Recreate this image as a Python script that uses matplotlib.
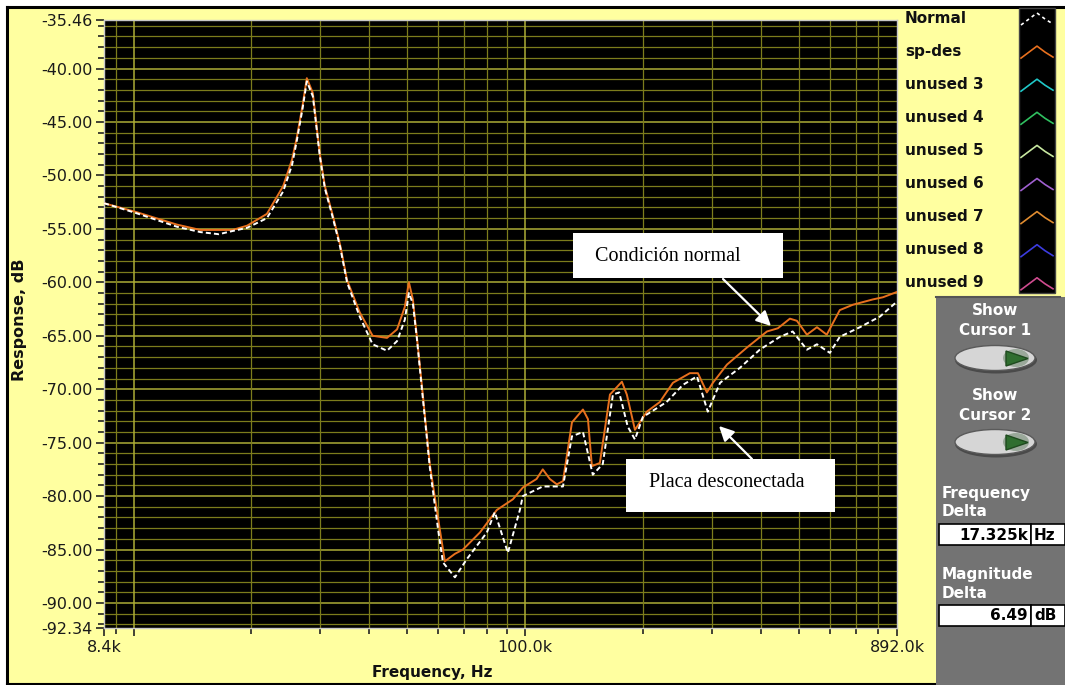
import matplotlib
matplotlib.use("Agg")
import matplotlib.pyplot as plt
from matplotlib.patches import Rectangle, Ellipse, Polygon
from matplotlib.ticker import NullFormatter
import numpy as np

# ---- measured responses -------------------------------------------------
# "sp-des" trace (solid orange), frequency in kHz, response in dB
spdes_khz = [8.4, 10.1, 12.9, 14.8, 17.9, 19.5, 21.9, 24.1, 25.4, 26.1, 27.0,
             27.7, 28.7, 29.9, 30.8, 32.3, 33.7, 35.1, 37.8, 40.8, 44.4, 47.1,
             49.3, 50.5, 51.7, 52.9, 54.8, 57.1, 59.9, 62.4, 66.2, 69.4, 76.7,
             84.7, 93.1, 98.7, 107.0, 111.0, 115.7, 120.6, 125.0, 131.8, 140.6,
             144.8, 148.2, 155.3, 164.8, 176.8, 182.0, 190.9, 204.8, 221.0,
             238.7, 263.7, 276.5, 291.5, 302.0, 328.0, 369.0, 415.0, 442.6,
             475.0, 495.0, 525.0, 557.0, 590.0, 637.0, 688.0, 774.0, 821.0,
             892.0]
spdes_db = [-52.6, -53.4, -54.6, -55.1, -55.1, -54.7, -53.6, -51.0, -48.5,
            -46.5, -43.5, -40.9, -42.3, -48.0, -51.0, -53.8, -56.5, -59.8,
            -62.8, -65.0, -65.2, -64.4, -62.3, -60.0, -61.6, -65.0, -70.5,
            -77.0, -82.0, -86.1, -85.4, -85.0, -83.4, -81.3, -80.3, -79.2,
            -78.4, -77.5, -78.4, -78.9, -78.6, -73.1, -71.9, -72.8, -77.2,
            -76.9, -70.5, -69.3, -70.5, -73.8, -72.1, -71.2, -69.4, -68.5,
            -68.5, -70.3, -69.4, -67.7, -66.1, -64.6, -64.3, -63.4, -63.6,
            -64.9, -64.2, -64.9, -62.6, -62.1, -61.6, -61.4, -60.9]

# "Normal" trace (white dashed)
normal_khz = [8.4, 10.1, 12.9, 14.8, 16.5, 17.9, 19.5, 21.9, 24.1, 25.4, 26.1,
              27.0, 27.7, 28.7, 29.9, 30.8, 32.3, 33.7, 35.1, 37.8, 40.8, 44.4,
              47.1, 49.3, 50.5, 51.7, 52.9, 54.8, 57.1, 59.9, 61.7, 66.2, 71.0,
              79.9, 83.7, 90.4, 97.0, 98.7, 111.0, 125.0, 131.8, 140.6, 149.0,
              158.0, 167.7, 174.0, 183.0, 190.9, 200.0, 230.0, 253.0, 275.0,
              293.0, 315.0, 354.0, 398.0, 448.0, 483.0, 525.0, 557.0, 601.0,
              637.0, 717.0, 807.0, 892.0]
normal_db = [-52.6, -53.5, -54.8, -55.3, -55.5, -55.2, -54.9, -54.0, -51.5,
             -49.0, -46.8, -43.8, -41.2, -42.6, -48.2, -51.2, -54.0, -56.7,
             -60.0, -63.2, -65.8, -66.4, -65.5, -63.5, -61.0, -62.0, -65.2,
             -70.8, -77.3, -83.0, -86.2, -87.6, -85.9, -83.4, -81.5, -85.3,
             -81.3, -80.0, -79.1, -79.1, -74.4, -74.0, -78.0, -77.0, -70.5,
             -70.3, -73.5, -74.7, -72.6, -71.2, -69.6, -68.8, -72.1, -69.4,
             -68.0, -66.3, -65.1, -64.6, -66.3, -65.8, -66.6, -65.1, -64.2,
             -63.2, -61.8]

legend_names = ["Normal", "sp-des", "unused 3", "unused 4", "unused 5",
                "unused 6", "unused 7", "unused 8", "unused 9"]
legend_colors = ["white", "#E8701E", "#20C8C8", "#30C060", "#C8E8A0",
                 "#A060D0", "#E08C30", "#3C3CE0", "#D04C90"]

y_major = [-35.46, -40.0, -45.0, -50.0, -55.0, -60.0, -65.0, -70.0, -75.0,
           -80.0, -85.0, -90.0, -92.34]
y_labels = ["-35.46", "-40.00", "-45.00", "-50.00", "-55.00", "-60.00",
            "-65.00", "-70.00", "-75.00", "-80.00", "-85.00", "-90.00", "-92.34"]
x_major_khz = [8.4, 10.0, 100.0, 892.0]
x_labels = ["8.4k", "", "100.0k", "892.0k"]
x_minor_khz = [9, 20, 30, 40, 50, 60, 70, 80, 90,
               200, 300, 400, 500, 600, 700, 800]

YELLOW = "#FFFFA0"
GRID_MINOR = "#7C7C1C"
GRID_MAJOR = "#ACAC36"
PANEL = "#737373"

W, H = 1065, 685
fig = plt.figure(figsize=(W / 100, H / 100), dpi=100)
fig.patch.set_facecolor("white")

# ---- background panels (pixel coordinates) -------------------------------
bg = fig.add_axes([0, 0, 1, 1], zorder=0)
bg.set_xlim(0, W)
bg.set_ylim(H, 0)
bg.axis("off")
bg.add_patch(Rectangle((7, 7), W - 7, H - 7, facecolor=YELLOW, edgecolor="none"))
bg.plot([7, 7], [7, H], color="black", lw=2.2)
bg.plot([7, W], [7, 7], color="black", lw=2.2)
bg.plot([7, W], [H - 1.5, H - 1.5], color="black", lw=1.5)

# ---- main graph -----------------------------------------------------------
ax = fig.add_axes([104 / W, 1 - 628 / H, 793 / W, 608 / H], zorder=2)
ax.set_facecolor("black")
ax.set_xscale("log")
ax.set_xlim(8400, 892000)
ax.set_ylim(-92.34, -35.46)

for v in range(-92, -35):
    major = (v % 5 == 0)
    ax.axhline(v, color=GRID_MAJOR if major else GRID_MINOR,
               lw=1.1 if major else 0.9, zorder=1)
for k in x_minor_khz:
    ax.axvline(k * 1000, color=GRID_MINOR, lw=0.9, zorder=1)
for k in (10, 100):
    ax.axvline(k * 1000, color=GRID_MAJOR, lw=1.1, zorder=1)

ax.plot(np.array(spdes_khz) * 1000, spdes_db, color="#E8701E", lw=1.4, zorder=3)
ax.plot(np.array(normal_khz) * 1000, normal_db, color="white", lw=1.4,
        dashes=(2.6, 1.6), zorder=4)

ax.set_xticks(np.array(x_major_khz) * 1000, labels=x_labels)
ax.set_xticks(np.array(x_minor_khz) * 1000, minor=True)
ax.xaxis.set_minor_formatter(NullFormatter())
ax.set_yticks(y_major, labels=y_labels)
ax.set_yticks([v for v in range(-92, -35) if v % 5 != 0], minor=True)

for lab in ax.get_xticklabels() + ax.get_yticklabels():
    lab.set_fontfamily("DejaVu Sans")
    lab.set_fontsize(11.5)
    lab.set_color("#1a1a1a")
ax.tick_params(axis="both", which="major", length=6, width=1.2, color="#222222",
               direction="out")
ax.tick_params(axis="both", which="minor", length=4, width=1.2, color="#222222",
               direction="out")
ax.tick_params(axis="y", which="major", pad=2)
ax.tick_params(axis="x", which="major", pad=3)
for s in ax.spines.values():
    s.set_color("#c8c8c8")
    s.set_linewidth(1.0)

# ---- overlay: labels, legend, controls, callouts ---------------------------
ov = fig.add_axes([0, 0, 1, 1], zorder=5)
ov.set_xlim(0, W)
ov.set_ylim(H, 0)
ov.axis("off")
ov.patch.set_alpha(0)

ov.text(20, 320, "Response, dB", rotation=90, ha="center", va="center",
        fontsize=11.5, fontweight="bold", family="DejaVu Sans", color="#111111")
ov.text(432, 673, "Frequency, Hz", ha="center", va="center",
        fontsize=11, fontweight="bold", family="DejaVu Sans", color="#111111")

# plot legend
ov.add_patch(Rectangle((1019, 8), 36, 285, facecolor="black", edgecolor="#444444", lw=1))
for i, (name, col) in enumerate(zip(legend_names, legend_colors)):
    y = 18 + 33.1 * i
    ov.text(905, y, name, ha="left", va="center", fontsize=11,
            fontweight="bold", family="DejaVu Sans", color="#111111")
    xs = [1021, 1029, 1037, 1045, 1053]
    ys = [y + 7, y + 1, y - 5, y + 1, y + 6]
    if i == 0:
        ov.plot(xs, ys, color=col, lw=1.2, dashes=(2, 2))
    else:
        ov.plot(xs, ys, color=col, lw=1.2)

# control panel
ov.add_patch(Rectangle((936, 297), W - 936, H - 297, facecolor=PANEL, edgecolor="none"))
ov.plot([936, 1060], [297, 297], color="#555555", lw=1.5)

def panel_text(x, y, s, ha="center"):
    ov.text(x, y, s, ha=ha, va="center", fontsize=11, fontweight="bold",
            family="DejaVu Sans", color="white")

def button(cy):
    ov.add_patch(Ellipse((996, cy + 2), 82, 27, facecolor="#4a4a4a", edgecolor="none"))
    ov.add_patch(Ellipse((995, cy), 80, 25, facecolor="#d6d6d6", edgecolor="#5a5a5a", lw=1))
    ov.add_patch(Ellipse((1016, cy), 26, 18, facecolor="#9aa89a", edgecolor="none"))
    ov.add_patch(Polygon([(1006, cy - 7), (1006, cy + 8), (1028, cy + 0.5)],
                         closed=True, facecolor="#2f6e2f", edgecolor="#1e4a1e"))

panel_text(995, 310, "Show")
panel_text(995, 330, "Cursor 1")
button(358)
panel_text(995, 395, "Show")
panel_text(995, 415, "Cursor 2")
button(442)

panel_text(942, 493, "Frequency", ha="left")
panel_text(942, 512, "Delta", ha="left")
panel_text(942, 574, "Magnitude", ha="left")
panel_text(942, 593, "Delta", ha="left")

def value_box(y, val, unit):
    ov.add_patch(Rectangle((939, y), 92, 21, facecolor="white", edgecolor="black", lw=1.2))
    ov.add_patch(Rectangle((1031, y), 34, 21, facecolor="white", edgecolor="black", lw=1.2))
    ov.text(1028, y + 11, val, ha="right", va="center", fontsize=11,
            fontweight="bold", family="DejaVu Sans", color="black")
    ov.text(1034, y + 11, unit, ha="left", va="center", fontsize=11,
            fontweight="bold", family="DejaVu Sans", color="black")

value_box(524, "17.325k", "Hz")
value_box(605, "6.49", "dB")

# callouts
ov.add_patch(Rectangle((573, 233), 210, 45, facecolor="white", edgecolor="none"))
ov.text(668, 256, "Condición normal", ha="center", va="center",
        fontsize=14.5, family="Liberation Serif", color="black")
ov.annotate("", xy=(771, 326), xytext=(723, 279),
            arrowprops=dict(arrowstyle="-|>", color="white", lw=1.6,
                            mutation_scale=22, shrinkA=0, shrinkB=0))
ov.add_patch(Rectangle((626, 459), 209, 53, facecolor="white", edgecolor="none"))
ov.text(727, 482, "Placa desconectada", ha="center", va="center",
        fontsize=14.5, family="Liberation Serif", color="black")
ov.annotate("", xy=(719, 426), xytext=(752, 459),
            arrowprops=dict(arrowstyle="-|>", color="white", lw=1.6,
                            mutation_scale=22, shrinkA=0, shrinkB=0))

fig.savefig("out.png", dpi=100, facecolor=fig.get_facecolor())
